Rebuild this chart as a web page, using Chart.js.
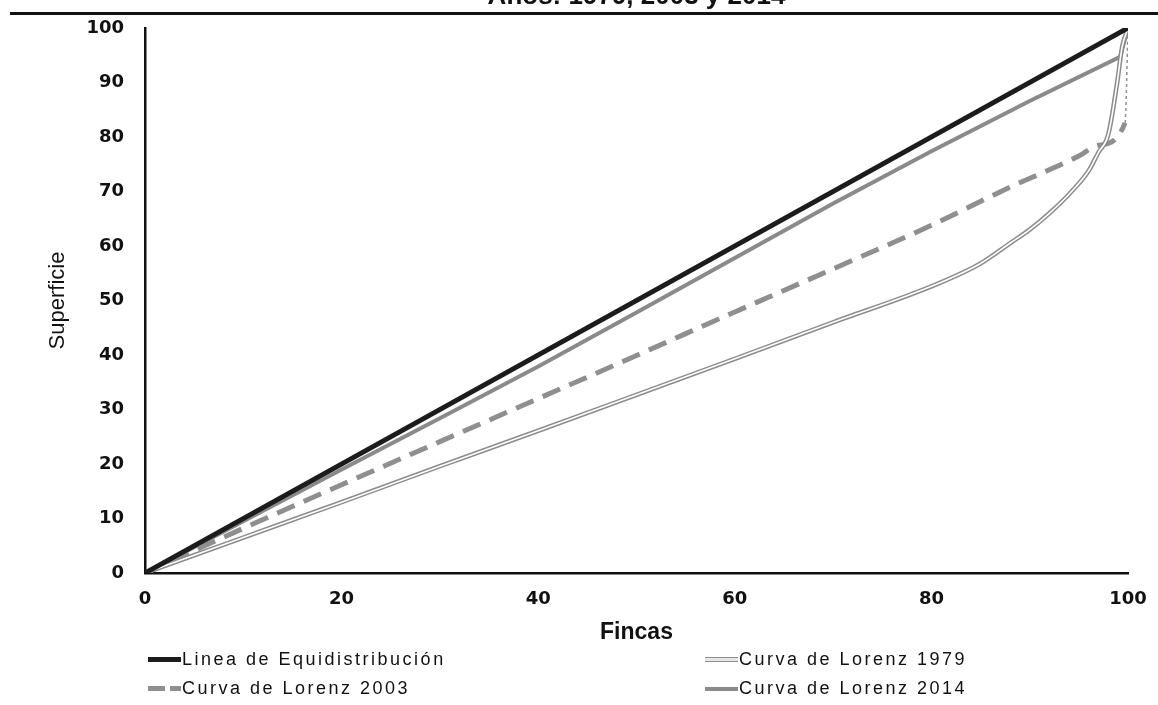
<!DOCTYPE html>
<html><head><meta charset="utf-8">
<script src="https://cdn.jsdelivr.net/npm/chart.js@4.4.0/dist/chart.umd.min.js"></script>
<style>
html,body{margin:0;padding:0;background:#fff;}
#wrap{position:relative;width:1158px;height:705px;overflow:hidden;background:#fff;}
#cv{position:absolute;left:0;top:-12px;width:1158px;height:717px;}
#rule{position:absolute;left:10px;right:0;top:12px;height:3px;background:#111;}
#legend{position:absolute;left:0;top:0;width:1158px;height:705px;pointer-events:none;font-family:"Liberation Sans",Arial,sans-serif;}
.item{position:absolute;display:flex;align-items:center;font-size:18px;letter-spacing:2.5px;color:#111;white-space:nowrap;}
.sw{width:33px;height:5px;margin-right:1px;box-sizing:border-box;}
</style></head><body>
<div id="wrap"><canvas id="cv" width="1158" height="717"></canvas><div id="rule"></div><div id="legend"></div></div>
<script>
// ---- data ----
const titleText = 'Años: 1979, 2003 y 2014';
const xTitle = 'Fincas';
const yTitle = 'Superficie';
const xTicks = [0,20,40,60,80,100];
const yTicks = [0,10,20,30,40,50,60,70,80,90,100];

const fincasEq = [0,100];
const supEq    = [0,100];

const fincas1979 = [0,10,20,30,40,50,60,70,80,85,88,90,92,94,96,97,98,98.9,99.4,100];
const sup1979    = [0,6.5,13,19.6,26.1,32.7,39.3,46,52.6,56.8,60.5,63,66,69.5,73.8,77.2,80.5,90,96.5,100];

const fincas2003 = [0,10,20,30,40,50,60,70,80,88,95,97,99.7,100];
const sup2003    = [0,8.2,16.2,24.1,32,39.9,47.9,55.8,63.8,70.8,76.5,78.5,82.6,100];

const fincas2014 = [0,10,20,30,40,50,60,70,80,90,99.2,100];
const sup2014    = [0,9.5,19,28.4,37.9,47.8,57.8,67.8,77.4,86.6,94.7,100];

const labels = ['Linea de Equidistribución','Curva de Lorenz 1979','Curva de Lorenz 2003','Curva de Lorenz 2014'];

const pts = (xs, ys) => xs.map((x,i)=>({x, y: ys[i]}));
const n2003 = fincas2003.length;

const datasets = [
  {label: labels[0], data: pts(fincasEq, supEq), borderColor:'#1c1c1c', borderWidth:5, legendKind:'solid', legendPos:0},
  {label: labels[1]+' (inner)', data: pts(fincas1979, sup1979), borderColor:'#ffffff', borderWidth:1.6, cubicInterpolationMode:'monotone', noLegend:true},
  {label: labels[1], data: pts(fincas1979, sup1979), borderColor:'#8c8c8c', borderWidth:4.6, cubicInterpolationMode:'monotone', legendKind:'double', legendPos:1},
  {label: labels[2], data: pts(fincas2003, sup2003), borderColor:'#8f8f8f', borderWidth:5, borderDash:[19,10], cubicInterpolationMode:'monotone', legendKind:'dash', legendPos:2,
    segment:{
      borderWidth: ctx => ctx.p1DataIndex === n2003-1 ? 1.5 : undefined,
      borderDash: ctx => ctx.p1DataIndex === n2003-1 ? [3,3] : undefined
    }},
  {label: labels[3], data: pts(fincas2014, sup2014), borderColor:'#8a8a8a', borderWidth:4, legendKind:'solid', legendPos:3},
];
datasets.forEach(d=>{d.pointRadius=0; d.fill=false; if(!d.cubicInterpolationMode) d.tension=0;});

const tickFont = {family:'"DejaVu Sans", Verdana, sans-serif', weight:'bold', size:18};
const hiddenGrid = (len)=>({display:true, drawOnChartArea:false, drawTicks:true, tickLength:len, color:'rgba(0,0,0,0)', tickColor:'rgba(0,0,0,0)'});

const chart = new Chart(document.getElementById('cv'), {
  type:'line',
  data:{datasets},
  options:{
    responsive:false, animation:false,
    layout:{padding:{left:0, right:30, top:0, bottom:0}},
    plugins:{
      legend:{display:false},
      tooltip:{enabled:false},
      title:{display:true, text:titleText, fullSize:false, color:'#111',
        font:{family:'"Liberation Sans", Arial, sans-serif', weight:'bold', size:26},
        padding:{top:-7, bottom:15.8}}
    },
    scales:{
      x:{type:'linear', min:0, max:100,
        afterBuildTicks:(s)=>{s.ticks = xTicks.map(v=>({value:v}));},
        afterFit:(s)=>{s.height = 132;},
        grid:hiddenGrid(16),
        border:{display:true, color:'#111', width:2.5},
        ticks:{color:'#111', font:tickFont, padding:0, maxRotation:0},
        title:{display:true, text:xTitle, color:'#111',
          font:{family:'"Liberation Sans", Arial, sans-serif', weight:'bold', size:23},
          padding:{top:0, bottom:59}}
      },
      y:{type:'linear', min:0, max:100,
        afterBuildTicks:(s)=>{s.ticks = yTicks.map(v=>({value:v}));},
        afterFit:(s)=>{s.width = 145;},
        grid:hiddenGrid(0),
        border:{display:true, color:'#111', width:2.5},
        ticks:{color:'#111', font:tickFont, padding:21},
        title:{display:true, text:yTitle, color:'#111',
          font:{family:'"Liberation Sans", Arial, sans-serif', size:22},
          padding:{top:45, bottom:0}}
      }
    }
  }
});

// ---- HTML legend built from the datasets ----
const legendSlots = [{left:148, top:661},{left:705, top:661},{left:148, top:690},{left:705, top:690}];
const legendEl = document.getElementById('legend');
chart.data.datasets.filter(d=>!d.noLegend).forEach(d=>{
  const slot = legendSlots[d.legendPos];
  const item = document.createElement('div');
  item.className='item';
  item.style.left = slot.left+'px';
  item.style.top = (slot.top-12)+'px';
  const sw = document.createElement('div');
  sw.className='sw';
  if(d.legendKind==='solid'){ sw.style.background = d.borderColor; sw.style.height = (d.borderWidth)+'px'; }
  else if(d.legendKind==='double'){ sw.style.background='#e6e6e6'; sw.style.borderTop='1.5px solid '+d.borderColor; sw.style.borderBottom='1.5px solid '+d.borderColor; }
  else if(d.legendKind==='dash'){ sw.style.background='repeating-linear-gradient(90deg,'+d.borderColor+' 0 17px, transparent 17px 22px)'; }
  item.appendChild(sw);
  const t = document.createElement('span');
  t.textContent = d.label;
  item.appendChild(t);
  legendEl.appendChild(item);
});
</script>
</body></html>
